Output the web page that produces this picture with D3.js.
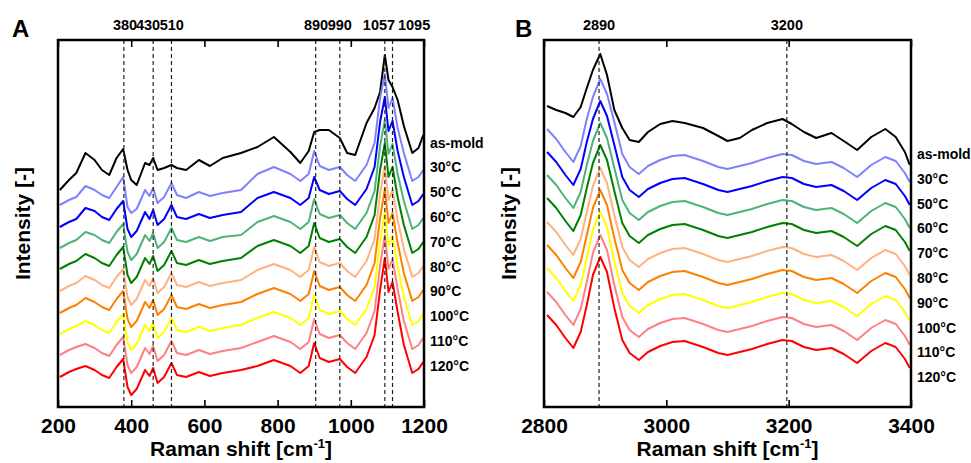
<!DOCTYPE html>
<html>
<head>
<meta charset="utf-8">
<script src="https://cdn.jsdelivr.net/npm/d3@7"></script>
<style>
body { margin: 0; background: #fff; }
svg text { font-family: "Liberation Sans", Arial, sans-serif; font-weight: bold; fill: #000; }
.tick text { font-family: "Liberation Sans Narrow", "Arial Narrow", "Liberation Sans", sans-serif; font-size: 21px; font-weight: bold; }
</style>
</head>
<body>
<svg id="drawing_region"></svg>
<script>
// series names (legend, top to bottom)
const seriesNames = ['as-mold', '30°C', '50°C', '60°C', '70°C', '80°C', '90°C', '100°C', '110°C', '120°C'];
const seriesColors = ['#000000', '#8080ff', '#0000ff', '#4db377', '#008000', '#ffb27f', '#ff8000', '#ffff00', '#ff8080', '#ff0000'];

// ---- panel A : 200-1200 cm-1 (offset intensities, a.u.)
const shiftA = [205,230,250,275,300,320,340,360,378,390,400,415,438,450,460,472,490,510,525,550,585,615,650,700,745,790,835,862,885,900,915,940,970,990,1012,1043,1065,1080,1093,1103,1114,1128,1145,1168,1185,1198];
const asMoldA = [217,227,234,254,247,237,232,249,258,237,227,222,244,242,249,237,239,242,239,237,247,241,249,254,260,270,255,244,256,275,277,277,269,254,252,284,299,315,352,327,320,307,281,254,259,272];
const c30A  = [202,207,210,221,217,212,209,220,230,200,194,198,217,211,219,204,210,224,212,209,215,211,214,217,233,240,233,226,233,256,241,237,240,232,226,242,264,309,333,299,309,279,254,226,230,237];
const c50A  = [180,185,188,199,196,190,187,198,206,178,170,176,195,188,197,182,188,202,190,188,193,189,192,195,209,215,209,202,209,230,217,213,216,208,202,218,240,285,310,276,286,256,230,202,206,213];
const c60A  = [159,164,167,175,172,167,164,175,183,155,147,153,172,166,174,159,165,179,167,165,170,166,170,172,185,191,185,178,185,208,193,189,192,184,178,194,216,261,287,253,263,233,206,178,182,189];
const c70A  = [138,143,146,153,149,144,141,152,160,132,124,130,149,143,151,136,142,156,144,142,147,143,146,149,161,167,161,154,161,184,169,165,168,160,154,170,192,237,264,230,240,210,182,154,158,165];
const c80A  = [116,121,124,131,127,122,119,130,138,110,102,108,127,121,129,114,120,134,122,120,125,121,124,127,137,143,137,130,137,160,145,141,144,136,130,146,168,213,241,207,217,187,158,130,134,141];
const c90A  = [94,99,102,109,105,100,97,108,116,88,80,86,105,99,107,92,98,112,100,98,103,99,102,105,113,119,113,106,113,136,121,117,120,112,106,122,144,189,218,184,194,164,134,106,110,117];
const c100A = [73,78,81,86,82,77,74,85,93,65,57,63,82,76,84,69,75,89,77,75,80,76,79,82,89,95,89,82,89,112,97,93,96,88,82,98,120,165,195,161,171,141,110,82,86,93];
const c110A = [52,57,60,63,59,54,51,62,70,42,34,40,59,53,61,46,52,66,54,52,57,53,56,59,65,71,65,58,65,88,73,69,72,64,58,74,96,141,172,138,148,118,86,58,62,69];
const c120A = [30,35,38,41,37,32,29,40,48,20,12,18,37,31,39,24,30,44,32,30,35,31,34,37,41,47,41,34,41,64,49,45,48,40,34,50,72,117,149,115,125,95,62,34,38,45];
const ticksA = [200, 400, 600, 800, 1000, 1200];
const peakLinesA = [380, 460, 510, 904, 970, 1093, 1114];
const peakTextA = ['380', '430', '510', '890', '990', '1057', '1095'];
const peakTextAtA = [383, 446, 511, 905, 970, 1077, 1173];

// ---- panel B : 2800-3400 cm-1
const shiftB = [2805,2820,2835,2848,2860,2870,2880,2892,2903,2915,2928,2940,2955,2970,2990,3010,3030,3060,3085,3100,3120,3140,3165,3190,3205,3225,3245,3270,3290,3312,3335,3358,3375,3390,3398];
const asMoldB = [301,297,294,290,300,319,337,353,332,297,279,267,265,275,283,286,284,279,271,266,269,277,284,288,283,275,269,274,266,257,270,278,270,255,242];
const c30B  = [278,268,255,245,261,288,310,328,313,285,253,240,233,241,247,251,252,246,240,238,241,244,249,253,252,246,243,245,239,230,242,250,246,234,225];
const c50B  = [255,245,232,222,238,265,288,306,291,262,230,217,210,218,224,228,229,223,217,215,218,221,226,230,229,223,220,222,216,207,219,227,223,211,202];
const c60B  = [232,222,209,199,215,242,266,284,269,239,207,194,187,195,201,205,206,200,194,192,195,198,203,207,206,200,197,199,193,184,196,204,200,188,179];
const c70B  = [209,199,186,176,192,219,244,262,247,216,184,171,164,172,178,182,183,177,171,169,172,175,180,184,183,177,174,176,170,161,173,181,177,165,156];
const c80B  = [185,175,162,152,168,195,221,239,224,192,160,147,140,148,154,158,159,153,147,145,148,151,156,160,159,153,150,152,146,137,149,157,153,141,132];
const c90B  = [162,152,139,129,145,172,199,217,202,169,137,124,117,125,131,135,136,130,124,122,125,128,133,137,136,130,127,129,123,114,126,134,130,118,109];
const c100B = [139,129,116,106,122,149,177,195,180,146,114,101,94,102,108,112,113,107,101,99,102,105,110,114,113,107,104,106,100,91,103,111,107,95,86];
const c110B = [115,105,92,82,98,125,154,172,157,122,90,77,70,78,84,88,89,83,77,75,78,81,86,90,89,83,80,82,76,67,79,87,83,71,62];
const c120B = [92,82,69,59,75,102,132,150,135,99,67,54,47,55,61,65,66,60,54,52,55,58,63,67,66,60,57,59,53,44,56,64,60,48,39];
const ticksB = [2800, 3000, 3200, 3400];
const peakLinesB = [2890, 3197];
const peakTextB = ['2890', '3200'];
const peakTextAtB = [2890, 3197];

class SpectraPanel {

    constructor( config, data ) {
        this.config = config;
        this.data = data;
        this.init();
    }

    init() {
        let self = this;
        self.svg = d3.select( self.config.parent );
        self.chart = self.svg.append('g')
            .attr('transform', `translate(${self.config.left}, ${self.config.top})`);

        self.xscale = d3.scaleLinear()
            .domain( self.config.xdomain )
            .range([0, self.config.width]);
        self.yscale = d3.scaleLinear()
            .domain([0, 367])
            .range([self.config.height, 0]);

        self.line = d3.line()
            .x( (d, i) => self.xscale( self.data.shift[i] ) )
            .y( d => self.yscale( d ) );
    }

    render() {
        let self = this;
        const w = self.config.width, h = self.config.height;

        self.chart.selectAll('path.spectrum')
            .data( self.data.series )
            .join('path')
            .attr('class', 'spectrum')
            .attr('d', d => self.line( d ))
            .attr('fill', 'none')
            .attr('stroke', (d, i) => seriesColors[i])
            .attr('stroke-width', 2)
            .attr('stroke-linejoin', 'round');

        // dashed peak markers
        self.chart.selectAll('line.peak')
            .data( self.data.peakLines )
            .join('line')
            .attr('class', 'peak')
            .attr('x1', d => self.xscale(d)).attr('x2', d => self.xscale(d))
            .attr('y1', 0).attr('y2', h)
            .attr('stroke', '#222')
            .attr('stroke-width', 1.2)
            .attr('stroke-dasharray', '4,3');

        self.chart.selectAll('text.peak')
            .data( self.data.peakText )
            .join('text')
            .attr('class', 'peak')
            .attr('x', (d, i) => self.xscale( self.data.peakTextAt[i] ))
            .attr('y', -10)
            .attr('text-anchor', 'middle')
            .style('font-size', '14.5px')
            .text( d => d );

        // axes
        const xaxis = d3.axisBottom( self.xscale )
            .tickValues( self.data.ticks )
            .tickFormat( d3.format('d') )
            .tickSizeInner(-7).tickSizeOuter(0).tickPadding(11);
        const xaxis_top = d3.axisTop( self.xscale )
            .tickValues( self.data.ticks )
            .tickSizeInner(-7).tickSizeOuter(0).tickFormat('');

        self.chart.append('g')
            .attr('transform', `translate(0, ${h})`)
            .call( xaxis )
            .call( g => g.select('.domain').remove() )
            .call( g => g.selectAll('.tick line').attr('stroke-width', 1.6) );
        self.chart.append('g')
            .call( xaxis_top )
            .call( g => g.select('.domain').remove() )
            .call( g => g.selectAll('.tick line').attr('stroke-width', 1.6) );

        self.chart.append('rect')
            .attr('width', w).attr('height', h)
            .attr('fill', 'none')
            .attr('stroke', '#000')
            .attr('stroke-width', 2.5);

        // legend labels
        self.chart.selectAll('text.legend')
            .data( seriesNames )
            .join('text')
            .attr('class', 'legend')
            .attr('x', w + 6)
            .attr('y', (d, i) => self.config.legendTop + i * 24.8)
            .attr('dy', '0.35em')
            .style('font-size', '14px')
            .text( d => d );

        // axis titles
        const title = self.chart.append('text')
            .attr('x', w / 2).attr('y', h + 49)
            .attr('text-anchor', 'middle')
            .style('font-size', '21px');
        title.append('tspan').text('Raman shift [cm');
        title.append('tspan').attr('dy', -8).style('font-size', '13px').text('-1');
        title.append('tspan').attr('dy', 8).text(']');

        self.chart.append('text')
            .attr('transform', `translate(-28, ${h / 2}) rotate(-90)`)
            .attr('text-anchor', 'middle')
            .style('font-size', '21px')
            .text('Intensity [-]');

        self.chart.append('text')
            .attr('x', self.config.letterX).attr('y', -3)
            .style('font-size', '24px')
            .text( self.config.letter );
    }
}

d3.select('#drawing_region').attr('width', 971).attr('height', 463);

const panel_a = new SpectraPanel(
    { parent: '#drawing_region', left: 58, top: 40, width: 366, height: 367,
      xdomain: [200, 1200], legendTop: 102.7, letter: 'A', letterX: -46 },
    { shift: shiftA,
      series: [asMoldA, c30A, c50A, c60A, c70A, c80A, c90A, c100A, c110A, c120A],
      ticks: ticksA, peakLines: peakLinesA, peakText: peakTextA, peakTextAt: peakTextAtA } );
panel_a.render();

const panel_b = new SpectraPanel(
    { parent: '#drawing_region', left: 544, top: 40, width: 367, height: 367,
      xdomain: [2800, 3400], legendTop: 114, letter: 'B', letterX: -29 },
    { shift: shiftB,
      series: [asMoldB, c30B, c50B, c60B, c70B, c80B, c90B, c100B, c110B, c120B],
      ticks: ticksB, peakLines: peakLinesB, peakText: peakTextB, peakTextAt: peakTextAtB } );
panel_b.render();
</script>
</body>
</html>
